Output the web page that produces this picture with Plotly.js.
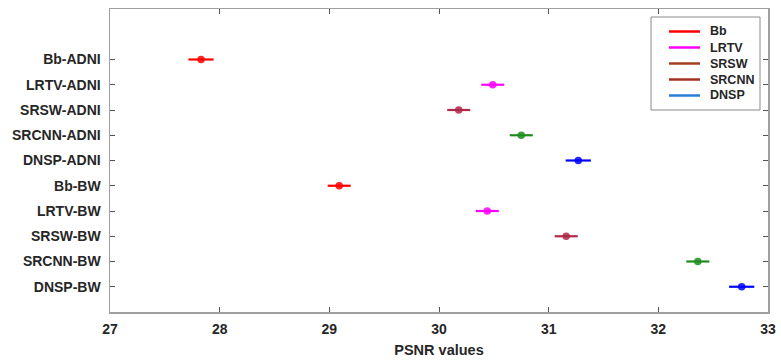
<!DOCTYPE html>
<html>
<head>
<meta charset="utf-8">
<script src="https://cdn.plot.ly/plotly-3.0.1.min.js"></script>
<style>html,body{margin:0;padding:0;background:#fff;}#chart{width:781px;height:362px;}</style>
</head>
<body>
<div id="chart"></div>
<script>
// Data
const categories = ["Bb-ADNI","LRTV-ADNI","SRSW-ADNI","SRCNN-ADNI","DNSP-ADNI","Bb-BW","LRTV-BW","SRSW-BW","SRCNN-BW","DNSP-BW"];
const psnrMean = [27.83, 30.49, 30.18, 30.75, 31.27, 29.09, 30.44, 31.16, 32.36, 32.76];
const psnrErr  = [0.115, 0.105, 0.105, 0.105, 0.115, 0.105, 0.105, 0.105, 0.105, 0.115];
const pointColors = ["#ff0000","#ff00ff","#b0284a","#1e8c1e","#0000ff","#ff0000","#ff00ff","#b0284a","#1e8c1e","#0000ff"];
const legendNames = ["Bb","LRTV","SRSW","SRCNN","DNSP"];
const legendColors = ["#ff0000","#ff00ff","#a3401e","#a33020","#2a7fd4"];
const xTicks = [27, 28, 29, 30, 31, 32, 33];

const FONT = 'Liberation Sans, Arial, sans-serif';
const traces = [];
categories.forEach((c, i) => {
  traces.push({
    type: 'scatter', mode: 'markers',
    x: [psnrMean[i]], y: [c],
    error_x: {type: 'data', array: [psnrErr[i]], color: pointColors[i], thickness: 2.2, width: 0},
    marker: {symbol: 'circle', size: 6, color: pointColors[i], opacity: 0.85, line: {color: pointColors[i], width: 1.5}},
    showlegend: false, hoverinfo: 'x+y'
  });
});

// Legend drawn as a box with line samples and labels (paper coordinates)
const plotL = 110, plotR = 768, plotT = 9, plotB = 312;
const px = v => (v - plotL) / (plotR - plotL);
const py = v => (plotB - v) / (plotB - plotT);
const shapes = [{
  type: 'rect', xref: 'paper', yref: 'paper',
  x0: px(651), x1: px(760), y0: py(110), y1: py(17),
  line: {color: '#8a8a8a', width: 1}, fillcolor: '#ffffff', layer: 'above'
}];
const annotations = [];
legendNames.forEach((n, i) => {
  const yy = 31.5 + i * 16;
  shapes.push({
    type: 'line', xref: 'paper', yref: 'paper',
    x0: px(669), x1: px(700), y0: py(yy), y1: py(yy),
    line: {color: legendColors[i], width: 2.5}, layer: 'above'
  });
  annotations.push({
    xref: 'paper', yref: 'paper', x: px(708), y: py(yy),
    xanchor: 'left', yanchor: 'middle', showarrow: false, text: n,
    font: {family: FONT, size: 12.5, color: '#262626', weight: 'bold'}
  });
});

const axisFont = {family: FONT, size: 14, color: '#262626', weight: 'bold'};
const layout = {
  width: 781, height: 362,
  margin: {l: 110, r: 13, t: 9, b: 50},
  paper_bgcolor: '#ffffff', plot_bgcolor: '#ffffff',
  font: axisFont,
  showlegend: false,
  shapes: shapes,
  annotations: annotations,
  xaxis: {
    range: [27, 33], tickvals: xTicks, ticktext: xTicks.map(String),
    ticks: 'inside', ticklen: 5, tickcolor: '#555', tickwidth: 1,
    showgrid: false, zeroline: false,
    showline: true, linecolor: '#a0a0a0', linewidth: 1.5, mirror: 'ticks',
    tickfont: axisFont, ticklabelstandoff: 4,
    title: {text: 'PSNR values', font: {family: FONT, size: 14.5, color: '#262626', weight: 'bold'}, standoff: 8}
  },
  yaxis: {
    type: 'category', categoryorder: 'array', categoryarray: categories.slice().reverse(),
    range: [-1, 11],
    ticks: 'inside', ticklen: 5, tickcolor: '#555', tickwidth: 1,
    showgrid: false, zeroline: false,
    showline: true, linecolor: '#a0a0a0', linewidth: 1.5, mirror: 'ticks',
    tickfont: axisFont, ticklabelstandoff: 5
  }
};
Plotly.newPlot('chart', traces, layout, {displayModeBar: false, staticPlot: true});
</script>
</body>
</html>
